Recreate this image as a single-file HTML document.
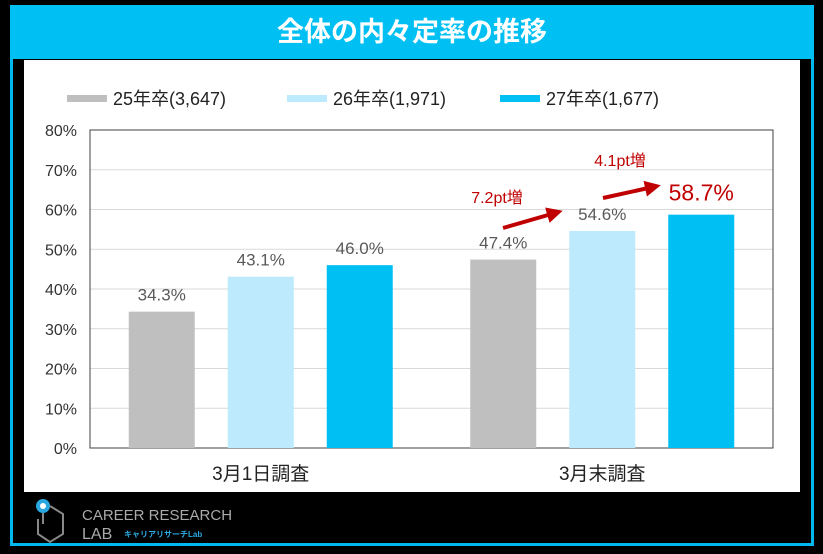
<!DOCTYPE html>
<html><head><meta charset="utf-8"><style>
body{margin:0;width:823px;height:554px;background:#000;overflow:hidden;font-family:"Liberation Sans","Noto Sans CJK JP",sans-serif;}
#frame{position:absolute;left:10px;top:5px;width:798px;height:538px;border:3px solid #00b8f0;border-top:none;}
#title{position:absolute;left:10px;top:5px;width:804px;height:54px;background:#00bff3;color:#fff;font-size:27px;font-weight:bold;text-align:center;line-height:54px;}
#panel{position:absolute;left:24px;top:60px;width:776px;height:432px;background:#fff;}
</style></head><body>
<div id="frame"></div>
<div id="title">全体の内々定率の推移</div>
<div id="panel"></div>
<svg id="chart" width="823" height="554" style="position:absolute;left:0;top:0"></svg>
<div style="position:absolute;left:28px;top:494px;">
<svg width="240" height="50">
<circle cx="15" cy="12" r="7" fill="#29a8e0"/><circle cx="15" cy="12" r="3" fill="#fff"/>
<path d="M15 19 L15 30 M22 12 L35 20 L35 40 L22 48 L10 40 L10 25" stroke="#888" stroke-width="2" fill="none"/>
<text x="54" y="26" fill="#aaa" font-size="15" font-family="Liberation Sans">CAREER RESEARCH</text>
<text x="54" y="45" fill="#aaa" font-size="16" font-family="Liberation Sans">LAB</text>
<text x="96" y="43" fill="#29a8e0" font-size="8" font-weight="bold">キャリアリサーチLab</text>
</svg></div>
<script>
const categories=["3月1日調査","3月末調査"];
const series=["25年卒(3,647)","26年卒(1,971)","27年卒(1,677)"];
const colors=["#bfbfbf","#bdeafc","#00bff3"];
const values=[[34.3,47.4],[43.1,54.6],[46.0,58.7]];
const ticks=[0,10,20,30,40,50,60,70,80];
const svg=document.getElementById('chart');const NS="http://www.w3.org/2000/svg";
function mk(t,a,p){const e=document.createElementNS(NS,t);for(const k in a)e.setAttribute(k,a[k]);(p||svg).appendChild(e);return e;}
const x0=90,x1=773,yb=448,yt=130;
const y=v=>yb-(v/80)*(yb-yt);
ticks.forEach(t=>{const l=mk('line',{x1:x0,x2:x1,y1:y(t),y2:y(t),stroke:'#d9d9d9'});

const tx=mk('text',{x:77,y:y(t)+6,'text-anchor':'end','font-size':16,fill:'#333'});tx.textContent=t+'%';
});
const b=mk('rect',{x:x0,y:yt,width:x1-x0,height:yb-yt,fill:'none',stroke:'#404040','stroke-width':1});

const gw=(x1-x0)/categories.length,bw=66,step=99;
categories.forEach((c,ci)=>{const cx=x0+gw*ci+gw/2;
series.forEach((s,si)=>{const v=values[si][ci];const bx=cx-bw/2+(si-1)*step;
const r=mk('rect',{x:bx,y:y(v),width:bw,height:yb-y(v),fill:colors[si]});

const big=(ci==1&&si==2);
const t=mk('text',{x:bx+bw/2,y:y(v)-(big?14:11),'text-anchor':'middle','font-size':big?23:17,fill:big?'#c00000':'#595959'});
t.textContent=v.toFixed(1)+'%';});
const ct=mk('text',{x:cx,y:480,'text-anchor':'middle','font-size':19,fill:'#222'});ct.textContent=c;
});
const lx=[67,287,500];
series.forEach((s,i)=>{const r=mk('rect',{x:lx[i],y:95,width:40,height:7,fill:colors[i]});

const t=mk('text',{x:lx[i]+46,y:105,'font-size':18,fill:'#222'});t.textContent=s;
});
const defs=mk('defs',{});const m=mk('marker',{id:'ah',markerWidth:4,markerHeight:4,refX:2,refY:2,orient:'auto'},defs);
mk('path',{d:'M0,0 L4,2 L0,4 z',fill:'#c00000'},m);
[[503,228,555,213,'7.2pt増',497,203],[603,198,653,187,'4.1pt増',620,166]].forEach(a=>{
const l=mk('line',{x1:a[0],y1:a[1],x2:a[2],y2:a[3],stroke:'#c00000','stroke-width':4,'marker-end':'url(#ah)'});

const t=mk('text',{x:a[5],y:a[6],'text-anchor':'middle','font-size':16,fill:'#c00000'});t.textContent=a[4];
});
</script></body></html>
